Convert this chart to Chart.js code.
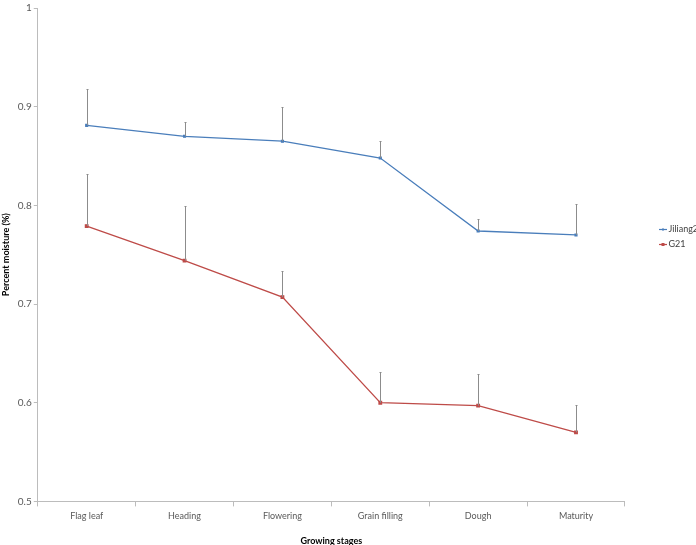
<!DOCTYPE html>
<html>
<head>
<meta charset="utf-8">
<script src="https://cdn.jsdelivr.net/npm/chart.js@4/dist/chart.umd.min.js"></script>
<style>
  html, body { margin: 0; padding: 0; background: #fff; }
  #wrap { width: 696px; height: 545px; }
</style>
</head>
<body>
<div id="wrap"><canvas id="moistChart"></canvas></div>
<script>
var stages = ['Flag leaf', 'Heading', 'Flowering', 'Grain filling', 'Dough', 'Maturity'];
var jiliang2 = [0.881, 0.870, 0.865, 0.848, 0.774, 0.770];
var jiliang2Err = [0.037, 0.014, 0.035, 0.017, 0.012, 0.031];
var g21 = [0.779, 0.744, 0.707, 0.600, 0.597, 0.570];
var g21Err = [0.053, 0.055, 0.026, 0.031, 0.032, 0.028];
var yTicks = [0.5, 0.6, 0.7, 0.8, 0.9, 1];

var blue = '#4a7ebb';
var red = '#be4b48';
var axisGrey = '#bcbcbc';
var textGrey = '#595959';
var font = 'Lato';

// legend sits to the right, a bit above the middle
var legendLeft = 656;
var legendTop = 219;

// little legend icon: short line with the marker in the middle
function legendIcon(color, square) {
  var c = document.createElement('canvas');
  c.width = 8; c.height = 5;
  var g = c.getContext('2d');
  g.strokeStyle = color; g.lineWidth = 1.2;
  g.beginPath(); g.moveTo(0, 2.5); g.lineTo(8, 2.5); g.stroke();
  g.fillStyle = color;
  if (square) g.fillRect(2.5, 1, 3, 3);
  else g.fillRect(3, 1.5, 2, 2);
  return c;
}

// upward error bars drawn through the y scale
var errorBars = {
  id: 'errorBars',
  afterDatasetsDraw: function (chart) {
    var ctx = chart.ctx;
    var y = chart.scales.y;
    ctx.save();
    ctx.strokeStyle = '#8c8c8c';
    ctx.lineWidth = 1;
    chart.data.datasets.forEach(function (ds, i) {
      var meta = chart.getDatasetMeta(i);
      meta.data.forEach(function (pt, j) {
        var top = Math.round(y.getPixelForValue(ds.data[j] + ds.errors[j])) + 0.5;
        var x = Math.round(pt.x) + 0.5;
        ctx.beginPath();
        ctx.moveTo(x, pt.y);
        ctx.lineTo(x, top);
        ctx.moveTo(x - 1, top);
        ctx.lineTo(x + 1, top);
        ctx.stroke();
      });
    });
    ctx.restore();
  }
};

var moveLegend = {
  id: 'moveLegend',
  afterLayout: function (chart) {
    var lg = chart.legend;
    var w = lg.right - lg.left, h = lg.bottom - lg.top;
    lg.left = legendLeft; lg.right = legendLeft + w;
    lg.top = legendTop; lg.bottom = legendTop + h;
  }
};

var ctx = document.getElementById('moistChart').getContext('2d');
var chart = new Chart(ctx, {
  type: 'line',
  data: {
    labels: stages,
    datasets: [{
      label: 'Jiliang2',
      data: jiliang2,
      errors: jiliang2Err,
      borderColor: blue,
      backgroundColor: blue,
      borderWidth: 1.3,
      pointStyle: 'rect',
      pointRadius: 1.3,
      tension: 0
    }, {
      label: 'G21',
      data: g21,
      errors: g21Err,
      borderColor: red,
      backgroundColor: red,
      borderWidth: 1.3,
      pointStyle: 'rect',
      pointRadius: 1.8,
      tension: 0
    }]
  },
  options: {
    responsive: true,
    maintainAspectRatio: false,
    animation: false,
    layout: { padding: { top: -11, right: 19, bottom: 0, left: 0 } },
    plugins: {
      tooltip: { enabled: false },
      legend: {
        position: 'right',
        align: 'start',
        labels: {
          color: '#404040',
          font: { family: font, size: 9 },
          usePointStyle: true,
          pointStyleWidth: 2,
          boxHeight: 5,
          padding: 6,
          generateLabels: function (chart) {
            return chart.data.datasets.map(function (ds, i) {
              return {
                text: ds.label,
                pointStyle: legendIcon(ds.borderColor, i === 1),
                fontColor: '#404040',
                lineWidth: 0,
                datasetIndex: i
              };
            });
          }
        }
      }
    },
    scales: {
      x: {
        offset: true,
        grid: { display: true, offset: true, drawOnChartArea: false, tickLength: 5, color: axisGrey },
        border: { color: axisGrey },
        ticks: { color: textGrey, font: { family: font, size: 9 }, padding: 4, maxRotation: 0 },
        title: { display: true, text: 'Growing stages', color: '#000', font: { family: font, size: 9, weight: 'bold' }, padding: { top: 10, bottom: -1 } }
      },
      y: {
        min: 0.5,
        max: 1,
        afterBuildTicks: function (axis) {
          axis.ticks = yTicks.map(function (v) { return { value: v }; });
        },
        grid: { display: true, drawOnChartArea: false, tickLength: 4, color: axisGrey },
        border: { color: axisGrey },
        ticks: {
          color: textGrey,
          font: { family: font, size: 10 },
          padding: 2,
          callback: function (v) { return String(Math.round(v * 10) / 10); }
        },
        title: { display: true, text: 'Percent moisture (%)', color: '#000', font: { family: font, size: 9, weight: 'bold' }, padding: { top: 1, bottom: 4 } }
      }
    }
  },
  plugins: [errorBars, moveLegend]
});
</script>
</body>
</html>
